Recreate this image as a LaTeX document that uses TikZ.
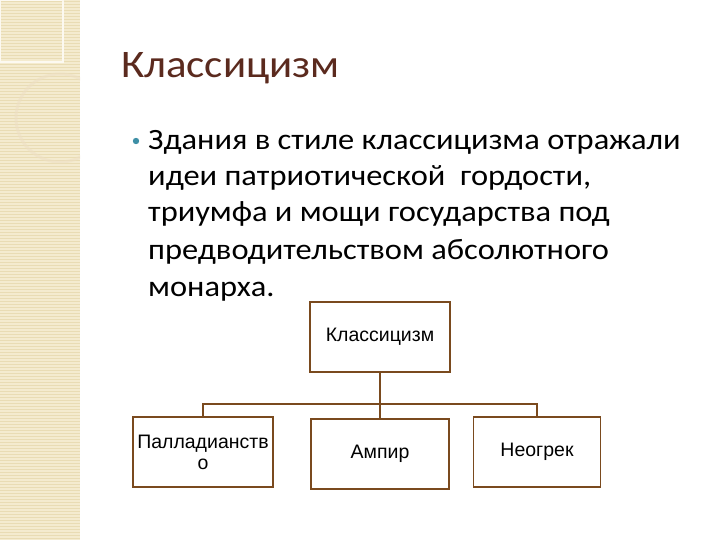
\documentclass[tikz,border=0pt]{standalone}
\usepackage{fontspec}
\setmainfont[FakeStretch=1.1]{Carlito}
\newfontfamily\arialfont{Liberation Sans}
\usetikzlibrary{positioning}

\definecolor{cream}{HTML}{F4EBCF}
\definecolor{creamline}{HTML}{E9DCB4}
\definecolor{titlebrown}{HTML}{5B2A1E}
\definecolor{boxbrown}{HTML}{7A4A1E}
\definecolor{bullet}{HTML}{3E8FA6}

\tikzset{
    box/.style={draw=boxbrown, line width=1.6pt, fill=white, minimum width=140pt,
        minimum height=70pt, inner sep=1pt, align=center, font=\arialfont\fontsize{19.5}{21}\selectfont},
    link/.style={draw=boxbrown, line width=1.6pt},
    bodytext/.style={anchor=base west, inner sep=0pt, font=\fontsize{29.5}{36}\selectfont}
}

\begin{document}
\begin{tikzpicture}[x=1pt, y=-1pt]
    \useasboundingbox (0,0) rectangle (720,540);
    \fill[white] (0,0) rectangle (720,540);
    \fill[cream] (0,0) rectangle (80,540);
    \foreach \y in {1,4,...,540} \draw[creamline, line width=0.8pt] (0,\y) -- (80,\y);
    \begin{scope}
        \clip (0,0) rectangle (80,540);
        \draw[white!70!cream, line width=1.2pt] (0,0) rectangle (63,62);
        \draw[white!60!cream, line width=1.5pt] (63,2) arc[start angle=0, end angle=-90, radius=58];
        \draw[creamline!80!brown!60, line width=3pt, opacity=0.5] (60,118) circle[radius=44];
    \end{scope}

    \node[anchor=base west, inner sep=0pt, text=titlebrown, font=\fontsize{39}{40}\selectfont] (title) at (121,78) {Классицизм};
    \fill[bullet] (136,141) circle[radius=3.2];
    \node[bodytext] (line1) at (148,150) {Здания в стиле классицизма отражали};
    \node[bodytext] (line2) at (148,186) {идеи патриотической\ \ гордости,};
    \node[bodytext] (line3) at (148,222) {триумфа и мощи государства под};
    \node[bodytext] (line4) at (148,259) {предводительством абсолютного};
    \node[bodytext] (line5) at (148,296) {монарха.};

    \node[box] (klass) at (380,337) {Классицизм};
    \node[box] (pallad) at (203,452) {Палладианств\\о};
    \node[box, minimum width=138pt] (ampir) at (380,454) {Ампир};
    \node[box, minimum width=127pt] (neogrek) at (537,452) {Неогрек};

    \coordinate (fork) at (380,404);
    \draw[link] (klass) -- (ampir);
    \draw[link] (pallad.north) |- (fork) -| (neogrek.north);
\end{tikzpicture}
\end{document}
